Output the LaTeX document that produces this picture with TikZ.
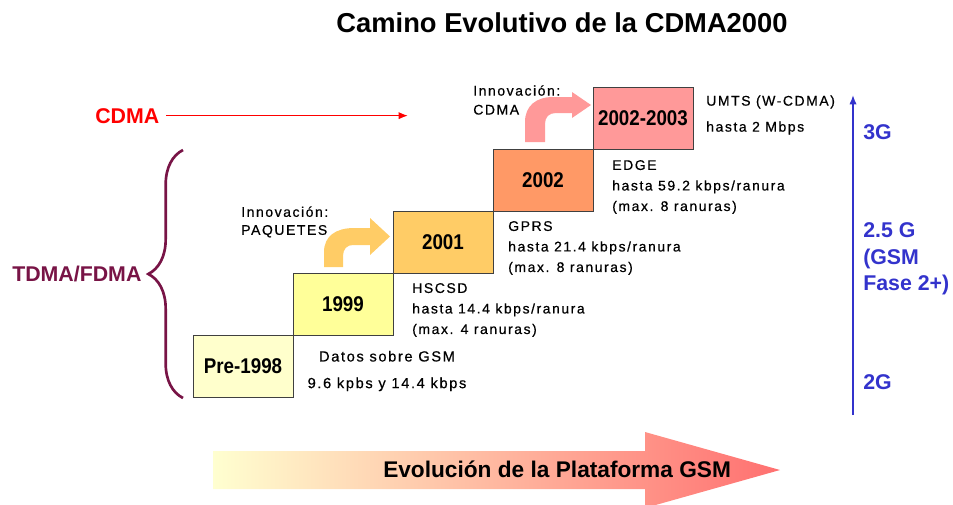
\documentclass[tikz,border=0pt]{standalone}
\usepackage{fontspec}
\setmainfont{Liberation Sans}
\newfontfamily\spacedfont[LetterSpace=11, FakeBold=0.5]{Liberation Sans}
\newfontfamily\narrowfont[FakeStretch=0.88]{Liberation Sans}
\usepackage{tikz}
\usetikzlibrary{arrows.meta, positioning, decorations.pathreplacing}
\definecolor{cdmared}{RGB}{255, 0, 0}
\definecolor{tdmapurple}{RGB}{120, 20, 70}
\definecolor{genblue}{RGB}{51, 51, 204}
\definecolor{boxgray}{RGB}{64, 64, 64}
\definecolor{stepcream}{RGB}{255, 255, 204}
\definecolor{stepyellow}{RGB}{255, 255, 153}
\definecolor{steporange}{RGB}{255, 204, 102}
\definecolor{stepdark}{RGB}{255, 153, 102}
\definecolor{steppink}{RGB}{255, 153, 153}
\definecolor{evocream}{RGB}{255, 255, 208}
\definecolor{evopeach}{RGB}{255, 210, 168}
\definecolor{evosalmon}{RGB}{255, 112, 112}

\begin{document}
\begin{tikzpicture}[
    x=0.75pt, y=-0.75pt,
    stepbox/.style={rectangle, draw=boxgray, line width=0.6pt, minimum width=75pt, minimum height=46.5pt, inner sep=0pt, font=\narrowfont\bfseries\fontsize{16}{19}\selectfont},
    desc/.style={inner sep=0pt, anchor=west, align=left, font=\spacedfont\fontsize{10.5}{#1}\selectfont},
    desc/.default=15.4,
    tech/.style={inner sep=0pt, anchor=base west, font=\bfseries\fontsize{16}{19}\selectfont},
    gen/.style={inner sep=0pt, anchor=west, align=left, text=genblue, font=\bfseries\fontsize{16}{19.9}\selectfont},
    thinarrow/.style={line width=1.1pt, -{Latex[length=7pt, width=5.5pt]}}
]
    \useasboundingbox (0,0) rectangle (953,504);

    % Title
    \node[font=\bfseries\fontsize{20.5}{24}\selectfont, anchor=base, inner sep=0pt] (title) at (562,32) {Camino Evolutivo de la CDMA2000};

    % Bottom arrow
    \shade[left color=evocream, middle color=evopeach, right color=evosalmon]
        (213,451) -- (645,451) -- (645,432) -- (780,470) -- (645,508) -- (645,489) -- (213,489) -- cycle;
    \node[font=\bfseries\fontsize{17}{20}\selectfont, anchor=base west, inner sep=0pt] (evo) at (383,477) {Evolución de la Plataforma GSM};

    % Innovation arrows
    \fill[steporange] (324,267) -- (324,252) .. controls (324,236) and (336,228) .. (354,228) -- (370,228) -- (370,218)
        -- (390,236.5) -- (370,255) -- (370,245) -- (353,245) .. controls (347,245) and (343,249) .. (343,256) -- (343,267) -- cycle;
    \fill[steppink] (525,142) -- (525,122) .. controls (525,106) and (536,97) .. (553,97) -- (572,97) -- (572,92)
        -- (591,105) -- (572,118) -- (572,113) -- (556,113) .. controls (549,113) and (545,117) .. (545,124) -- (545,142) -- cycle;

    % Steps
    \node[stepbox, fill=stepcream] (pre) at (243,366) {Pre-1998};
    \node[stepbox, fill=stepyellow] (y1999) at (343,304) {1999};
    \node[stepbox, fill=steporange] (y2001) at (443,242) {2001};
    \node[stepbox, fill=stepdark] (y2002) at (543,180) {2002};
    \node[stepbox, fill=steppink] (y2003) at (643,118) {2002-2003};

    % Descriptions
    \node[desc=20, anchor=center, align=center, font=\spacedfont\fontsize{11}{20}\selectfont] (gsm) at (387,371) {Datos sobre GSM\\9.6 kpbs y 14.4 kbps};
    \node[desc] (hscsd) at (412,310) {HSCSD\\hasta 14.4 kbps/ranura\\(max. 4 ranuras)};
    \node[desc] (gprs) at (508,248) {GPRS\\hasta 21.4 kbps/ranura\\(max. 8 ranuras)};
    \node[desc] (edge) at (612,187) {EDGE\\hasta 59.2 kbps/ranura\\(max. 8 ranuras)};
    \node[desc=19.5] (umts) at (706,115) {UMTS (W-CDMA)\\hasta 2 Mbps};
    \node[desc=13.5] (innopaq) at (241,222) {Innovación:\\PAQUETES};
    \node[desc=14.2] (innocdma) at (473,100) {Innovación:\\CDMA};

    % Access techniques
    \node[tech, text=cdmared] (cdma) at (95,123) {CDMA};
    \coordinate (cdmaend) at (408,115);
    \draw[thinarrow, cdmared, shorten <=5pt] (cdma.east) -- (cdma.east -| cdmaend);
    \node[tech, text=tdmapurple] (tdma) at (12,281) {TDMA/FDMA};
    \coordinate (bracebot) at (183,398);
    \coordinate (bracetop) at (183,150);
    \draw[tdmapurple, line width=2pt, decorate, decoration={brace, amplitude=26pt}] (bracebot) -- (bracetop);

    % Generations
    \coordinate (axisbot) at (853,415);
    \coordinate (axistop) at (853,95);
    \draw[thinarrow, genblue] (axisbot) -- (axistop);
    \node[gen] (g3) at (863,132) {3G};
    \node[gen] (g25) at (863,259) {2.5 G\\(GSM\\Fase 2+)};
    \node[gen] (g2) at (863,382) {2G};
\end{tikzpicture}
\end{document}
